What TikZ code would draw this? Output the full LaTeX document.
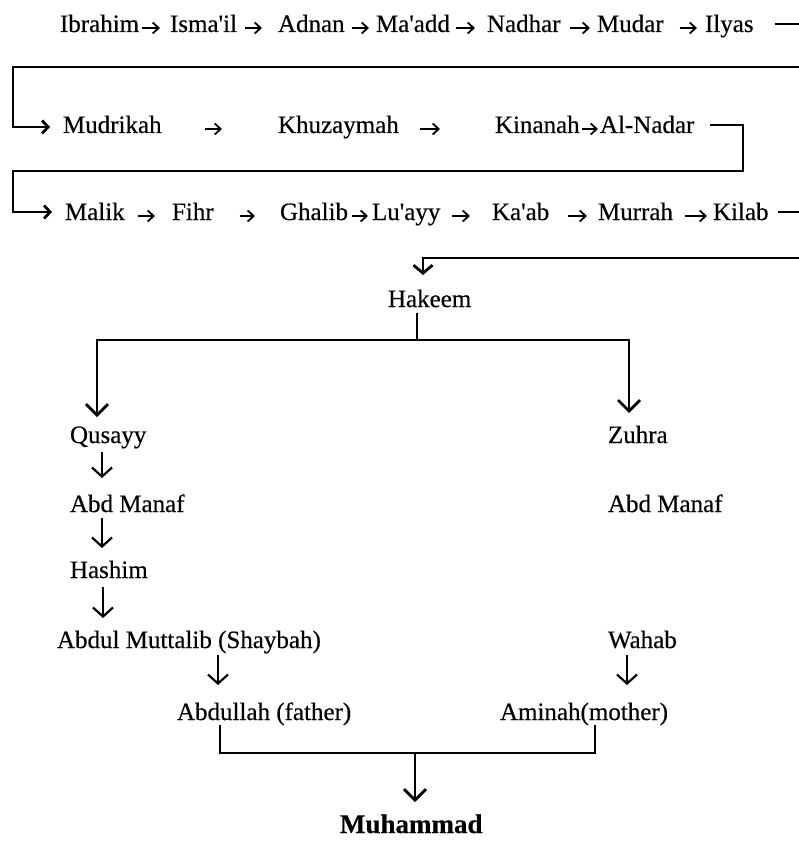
\documentclass[tikz,border=0pt]{standalone}
\usepackage{fontspec}
\setmainfont{Liberation Serif}[Ligatures=TeXOff,FakeBold=0.4]
\usetikzlibrary{arrows.meta}
\newcommand\txtarrow[4]{\draw[tarrow] ([xshift=#3pt,yshift=-4pt]#1.east) -- ([xshift=-#4pt,yshift=-4pt]#2.west);}
\begin{document}
\begin{tikzpicture}[x=1pt,y=-1pt,
  nm/.style={anchor=base west, inner sep=0pt, outer sep=0pt, text height=20pt, text depth=4pt, font=\fontsize{25}{25}\selectfont},
  tarrow/.style={line width=1.8pt, -{Straight Barb[length=6pt,width=11pt]}},
  conn/.style={line width=2.8pt},
  connarrow/.style={conn, -{Straight Barb[length=6pt,width=13pt]}},
  hkarrow/.style={conn, -{Straight Barb[length=8pt,width=19pt]}},
  varrow/.style={line width=2.2pt, -{Straight Barb[length=9pt,width=20pt]}},
  bigarrow/.style={conn, -{Straight Barb[length=11pt,width=22pt]}}]
\fill[white] (0,0) rectangle (798,842);
\useasboundingbox (0,0) rectangle (798,842);
% row 1
\node[nm] (ibrahim) at (60,32) {Ibrahim};
\node[nm] (ismail) at (170,32) {Isma'il};
\node[nm] (adnan) at (278,32) {Adnan};
\node[nm] (maadd) at (376,32) {Ma'add};
\node[nm] (nadhar) at (487,32) {Nadhar};
\node[nm] (mudar) at (597,32) {Mudar};
\node[nm] (ilyas) at (705,32) {Ilyas};
\txtarrow{ibrahim}{ismail}{3}{10}
\txtarrow{ismail}{adnan}{8}{16}
\txtarrow{adnan}{maadd}{7}{7}
\txtarrow{maadd}{nadhar}{6}{12}
\txtarrow{nadhar}{mudar}{9}{7}
\txtarrow{mudar}{ilyas}{16}{8}
% row 2
\node[nm] (mudrikah) at (63,133) {Mudrikah};
\node[nm] (khuzaymah) at (278,133) {Khuzaymah};
\node[nm] (kinanah) at (495,133) {Kinanah};
\node[nm] (alnadar) at (600,133) {Al-Nadar};
\txtarrow{mudrikah}{khuzaymah}{43}{56}
\txtarrow{khuzaymah}{kinanah}{21}{55}
\txtarrow{kinanah}{alnadar}{2}{2}
% row 3
\node[nm] (malik) at (65,220) {Malik};
\node[nm] (fihr) at (172,220) {Fihr};
\node[nm] (ghalib) at (280,220) {Ghalib};
\node[nm] (luayy) at (372,220) {Lu'ayy};
\node[nm] (kaab) at (492,220) {Ka'ab};
\node[nm] (murrah) at (598,220) {Murrah};
\node[nm] (kilab) at (713,220) {Kilab};
\txtarrow{malik}{fihr}{13}{17}
\txtarrow{fihr}{ghalib}{26}{25}
\txtarrow{ghalib}{luayy}{4}{4}
\txtarrow{luayy}{kaab}{12}{22}
\txtarrow{kaab}{murrah}{19}{11}
\txtarrow{murrah}{kilab}{12}{6}
% wrap connectors
\draw[connarrow] ([xshift=21pt]ilyas.east) -- ++(60,0) |- (13,67) |- ([xshift=-13pt,yshift=-2pt]mudrikah.west);
\draw[connarrow] ([xshift=16pt]alnadar.east) -- (743,125) -- (743,171) -- (13,171) |- ([xshift=-13pt]malik.west);
% tree
\node[nm] (hakeem) at (388,307) {Hakeem};
\draw[hkarrow] ([xshift=9pt]kilab.east) -- ++(60,0) -- ++(0,46) -| ([xshift=35pt,yshift=12pt]hakeem.north west);
\node[nm] (qusayy) at (70,443) {Qusayy};
\node[nm] (zuhra) at (608,443) {Zuhra};
\node[nm] (abdmanafl) at (70,512) {Abd Manaf};
\node[nm] (abdmanafr) at (608,512) {Abd Manaf};
\node[nm] (hashim) at (70,578) {Hashim};
\node[nm] (abdmut) at (57,648) {Abdul Muttalib (Shaybah)};
\node[nm] (wahab) at (608,648) {Wahab};
\node[nm] (abdullah) at (177,720) {Abdullah (father)};
\node[nm] (aminah) at (500,720) {Aminah(mother)};
\node[nm, font=\fontsize{27}{27}\selectfont\bfseries] (muhammad) at (340,833) {Muhammad};
\draw[conn] ([xshift=29pt,yshift=-2pt]hakeem.south west) -- ++(0,27) coordinate (hk);
\draw[bigarrow] (hk) -| ([xshift=27pt,yshift=6pt]qusayy.north west);
\draw[bigarrow] (hk) -| ([xshift=21pt,yshift=10pt]zuhra.north west);
\draw[varrow, shorten <=5pt, shorten >=14pt] ([xshift=32pt]qusayy.south west) -- ([xshift=32pt]abdmanafl.north west);
\draw[varrow, shorten <=2pt, shorten >=10pt] ([xshift=32pt]abdmanafl.south west) -- ([xshift=32pt]hashim.north west);
\draw[varrow, shorten <=5pt, shorten >=10pt] ([xshift=33pt]hashim.south west) -- ([xshift=46pt]abdmut.north west);
\draw[varrow, shorten <=3pt, shorten >=15pt] ([xshift=161pt]abdmut.south west) -- ([xshift=41pt]abdullah.north west);
\draw[varrow, shorten <=3pt, shorten >=15pt] ([xshift=19pt]wahab.south west) -- ([xshift=127pt]aminah.north west);
\coordinate (jn) at (415,753);
\draw[conn] ([xshift=43pt,yshift=-1pt]abdullah.south west) |- (jn);
\draw[conn] ([xshift=95pt,yshift=-1pt]aminah.south west) |- (jn);
\draw[bigarrow, shorten >=11pt] (jn) -- (jn |- muhammad.north);
\end{tikzpicture}
\end{document}
